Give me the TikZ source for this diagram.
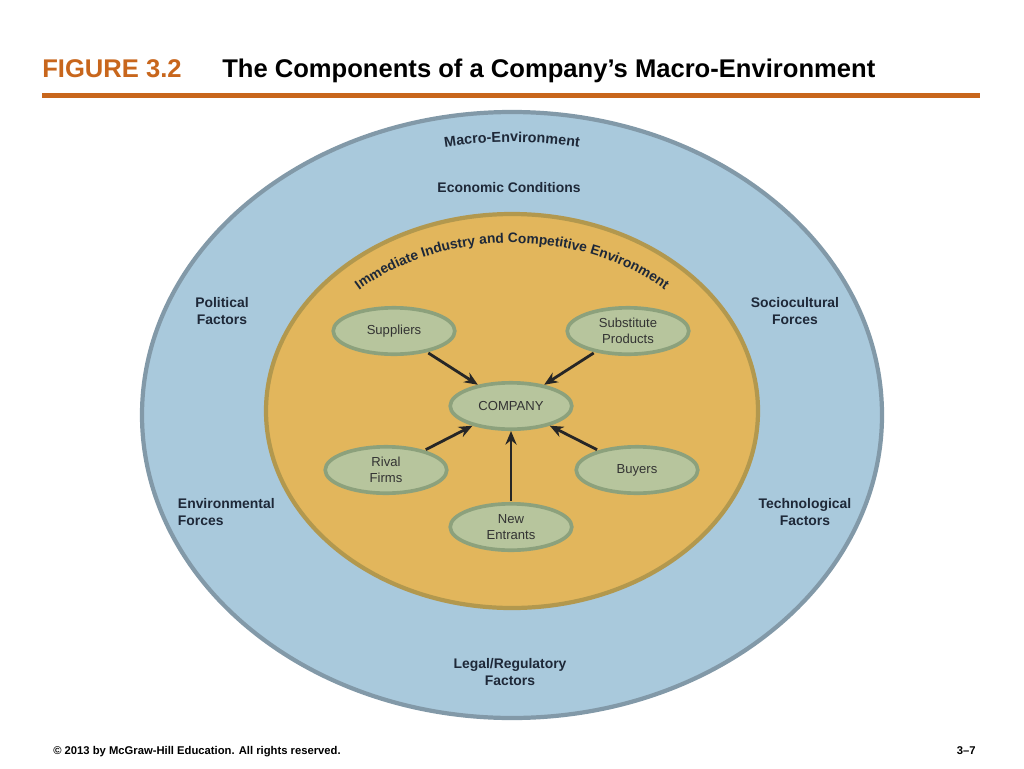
\documentclass[tikz,border=0pt]{standalone}
\usepackage{fontspec}
\setmainfont{Liberation Sans}
\usetikzlibrary{positioning}
\usetikzlibrary{shapes.geometric,decorations.text,arrows.meta}
\definecolor{macrofill}{HTML}{A9C9DC}
\definecolor{macroedge}{HTML}{8299A8}
\definecolor{indfill}{HTML}{E2B65C}
\definecolor{indedge}{HTML}{B2984E}
\definecolor{forcefill}{HTML}{B7C59D}
\definecolor{forceedge}{HTML}{8CA17C}
\definecolor{labink}{HTML}{1E2838}
\definecolor{figorange}{HTML}{C8661C}
\tikzset{%
  force/.style = {ellipse,draw=forceedge,line width=2.6pt,fill=forcefill,
        minimum width=30.4mm,minimum height=11.6mm,inner sep=0pt,align=center,
        text=black!80,font=\fontsize{9.3}{11.4}\selectfont},
  lab/.style = {align=center,text=labink,font=\bfseries\fontsize{9.9}{11.8}\selectfont},
  pil/.style = {-{Stealth[length=3.4mm,width=2.8mm]},line width=2pt,black!85,shorten <=1pt}
}
\begin{document}
\begin{tikzpicture}[x=0.25mm,y=-0.25mm]
\useasboundingbox (0,0) rectangle (1024,768);
% heading
\node[anchor=base west,inner sep=0pt,text=figorange,font=\bfseries\fontsize{18.2}{22}\selectfont] (fig) at (42,77) {FIGURE 3.2};
\node[anchor=base west,inner sep=0pt,font=\bfseries\fontsize{18.2}{22}\selectfont] (ttl) at (222,77) {The Components of a Company’s Macro-Environment};
\fill[figorange] (42,93) rectangle (980,98);
% the two environments
\filldraw[fill=macrofill,draw=macroedge,line width=3pt] (512,415) ellipse[x radius=370,y radius=303];
\filldraw[fill=indfill,draw=indedge,line width=3pt] (512,411) ellipse[x radius=246,y radius=197];
\path[decorate,decoration={text along path,text align=center,
      text={|\bfseries\fontsize{10.2}{11}\selectfont\color{labink}|Macro-Environment}}]
      (512,415) ++(-125:345 and 273) arc[start angle=-125,end angle=-55,x radius=345,y radius=273];
\path[decorate,decoration={text along path,text align=center,
      text={|\bfseries\fontsize{9.8}{11}\selectfont\color{labink}|Immediate Industry and Competitive Environment}}]
      (512,411) ++(-170:220 and 168) arc[start angle=-170,end angle=-10,x radius=220,y radius=168];
% outer forces
\node[lab] (econ) at (509,188) {Economic Conditions};
\node[lab] (pol) at (222,311) {Political\\Factors};
\node[lab] (soc) at (795,311) {Sociocultural\\Forces};
\node[lab,align=left,anchor=west] (env) at (173,512) {Environmental\\Forces};
\node[lab] (tech) at (805,512) {Technological\\Factors};
\node[lab] (legal) at (510,672) {Legal/Regulatory\\Factors};
% industry forces
\node[force] (comp) at (511,406) {COMPANY};
\node[force] (sup) at (394,331) {Suppliers};
\node[force] (sub) at (628,331) {Substitute\\Products};
\node[force] (rival) at (386,470) {Rival\\Firms};
\node[force] (buy) at (637,470) {Buyers};
\node[force] (newent) at (511,527) {New\\Entrants};
\draw[pil] (sup) -- (comp);
\draw[pil] (sub) -- (comp);
\draw[pil] (rival) -- (comp);
\draw[pil] (buy) -- (comp);
\draw[pil] (newent) -- (comp);
% footer
\node[anchor=base west,inner sep=0pt,font=\bfseries\fontsize{8}{9}\selectfont] (copy) at (53,754) {© 2013 by McGraw-Hill Education. All rights reserved.};
\node[anchor=base east,inner sep=0pt,font=\bfseries\fontsize{8}{9}\selectfont] (page) at (976,754) {3–7};
\end{tikzpicture}
\end{document}
